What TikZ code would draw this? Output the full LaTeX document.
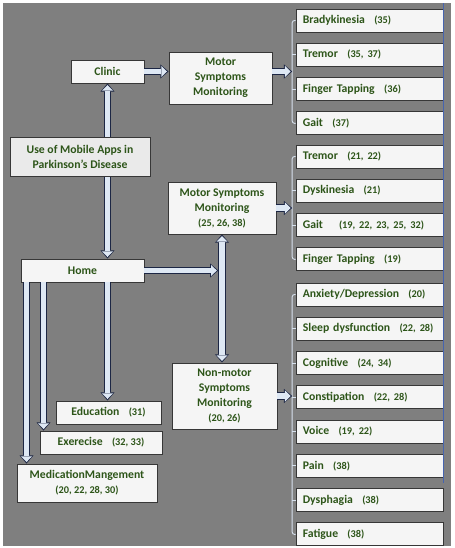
\documentclass[tikz,border=0pt]{standalone}
\usepackage{fontspec}
\setmainfont{Carlito}
\usepackage{xcolor}
\usetikzlibrary{arrows.meta, positioning}

\definecolor{bggray}{RGB}{127,127,127}
\definecolor{boxfill}{RGB}{245,245,245}
\definecolor{usefill}{RGB}{234,234,234}
\definecolor{boxedge}{RGB}{55,55,55}
\definecolor{txtgreen}{RGB}{45,85,25}
\definecolor{arrowedge}{RGB}{28,38,68}
\definecolor{arrowfill}{RGB}{222,232,244}
\definecolor{bracecol}{RGB}{215,225,238}
\definecolor{edgeblue}{RGB}{70,100,175}

\newcommand{\refsize}{\fontsize{8.8}{11}\selectfont}
\newcommand{\refs}[1]{\hspace{0.28cm}{\refsize(#1)}}

\begin{document}
\begin{tikzpicture}[font=\fontsize{10}{12.8}\selectfont\bfseries,
    box/.style={draw=boxedge, fill=boxfill, line width=0.8pt, text=txtgreen, align=center, inner sep=0pt},
    item/.style={box, minimum height=0.69cm, text width=4.0cm, align=left, inner xsep=0.205cm},
    fat/.style={line width=6pt, draw=arrowedge, -{Triangle[length=7pt, width=12pt, line width=0pt]},
        postaction={draw=arrowfill, line width=4.3pt, shorten >=1.3pt, -{Triangle[length=4.85pt, width=9.4pt, line width=0pt]}}},
    fatboth/.style={line width=6pt, draw=arrowedge, {Triangle[length=7pt, width=12pt, line width=0pt]}-{Triangle[length=7pt, width=12pt, line width=0pt]},
        postaction={draw=arrowfill, line width=4.3pt, shorten >=1.3pt, shorten <=1.3pt, {Triangle[length=4.85pt, width=9.4pt, line width=0pt]}-{Triangle[length=4.85pt, width=9.4pt, line width=0pt]}}},
    brace/.style={draw=bracecol, line width=0.8pt, rounded corners=2pt}]

    % Frame
    \useasboundingbox (0,0) rectangle (13.65,-16.44);
    \fill[white] (0,0) rectangle (13.65,-16.44);
    \fill[bggray] (0.09,-0.09) rectangle (13.53,-16.38);

    % Settings and monitoring
    \node[box, minimum width=2.19cm, minimum height=0.69cm] (clinic) at (3.225,-2.145) {Clinic};
    \node[box, minimum width=3.69cm, minimum height=0.69cm] (home) at (2.475,-8.115) {Home};
    \node[box, minimum width=3.09cm, minimum height=1.56cm] (motorc) at (6.615,-2.34) {Motor\\ Symptoms\\ Monitoring};
    \node[box, minimum width=3.24cm, minimum height=1.56cm] (motorh) at (6.66,-6.24) {Motor Symptoms\\ Monitoring\\ {\refsize(25, 26, 38)}};
    \node[box, minimum width=3.15cm, minimum height=1.98cm] (nonmotor) at (6.735,-11.88) {Non-motor\\ Symptoms\\ Monitoring\\ {\refsize(20, 26)}};

    % Home apps
    \node[box, minimum width=3.15cm, minimum height=0.69cm] (edu) at (3.255,-12.375) {Education\refs{31}};
    \node[box, minimum width=3.66cm, minimum height=0.69cm] (exer) at (3.03,-13.275) {Exerecise\refs{32, 33}};
    \node[box, minimum width=4.2cm, minimum height=1.14cm] (med) at (2.61,-14.49) {MedicationMangement\\ {\refsize(20, 22, 28, 30)}};

    % Clinic motor list
    \node[item] (brady) at (11.085,-0.615) {Bradykinesia\refs{35}};
    \node[item, below=0.31cm of brady] (tremorc) {Tremor\refs{35, 37}};
    \node[item, below=0.31cm of tremorc] (fingerc) {Finger Tapping\refs{36}};
    \node[item, below=0.31cm of fingerc] (gaitc) {Gait\refs{37}};

    % Home motor list
    \node[item] (tremorh) at (11.085,-4.695) {Tremor\refs{21, 22}};
    \node[item, below=0.31cm of tremorh] (dysk) {Dyskinesia\refs{21}};
    \node[item, below=0.31cm of dysk] (gaith) {Gait\hspace{0.2cm}\refs{19, 22, 23, 25, 32}};
    \node[item, below=0.31cm of gaith] (fingerh) {Finger Tapping\refs{19}};

    % Non-motor list
    \node[item] (anx) at (11.085,-8.835) {Anxiety/Depression\refs{20}};
    \node[item, below=0.31cm of anx] (sleep) {Sleep dysfunction\refs{22, 28}};
    \node[item, below=0.31cm of sleep] (cogn) {Cognitive\refs{24, 34}};
    \node[item, below=0.31cm of cogn] (const) {Constipation\refs{22, 28}};
    \node[item, below=0.31cm of const] (voice) {Voice\refs{19, 22}};
    \node[item, below=0.31cm of voice] (pain) {Pain\refs{38}};
    \node[item, below=0.31cm of pain] (dysph) {Dysphagia\refs{38}};
    \node[item, below=0.31cm of dysph] (fatigue) {Fatigue\refs{38}};

    \draw[edgeblue, line width=0.6pt] (13.29,-0.09) -- (13.29,-14.49);

    % Braces
    \draw[brace] (brady.west) -| ([xshift=-0.1cm]gaitc.west) -- (gaitc.west);
    \draw[brace] (tremorc.west) -- ++(-0.1,0) (fingerc.west) -- ++(-0.1,0);
    \draw[brace] (tremorh.west) -| ([xshift=-0.1cm]fingerh.west) -- (fingerh.west);
    \draw[brace] (dysk.west) -- ++(-0.1,0) (gaith.west) -- ++(-0.1,0);
    \draw[brace] (anx.west) -| ([xshift=-0.1cm]fatigue.west) -- (fatigue.west);
    \foreach \n in {sleep, cogn, const, voice, pain, dysph}
        \draw[brace] (\n.west) -- ++(-0.1,0);

    % Arrows
    \coordinate (exdrop) at ([xshift=0.12cm]exer.north west);
    \coordinate (meddrop) at ([xshift=0.3cm]med.north west);
    \coordinate (homeend) at ([xshift=-0.11cm]motorh.south |- home.east);
    \draw[fatboth] (clinic.south) -- (clinic.south |- home.north);
    \draw[fatboth] (motorh.south) -- (motorh.south |- nonmotor.north);
    \draw[fat] (clinic.east) -- (clinic.east -| motorc.west);
    \draw[fat] (motorc.east |- clinic.east) -- ([xshift=-0.1cm]brady.west |- clinic.east);
    \draw[fat] (motorh.east) -- ([xshift=-0.1cm]tremorh.west |- motorh.east);
    \draw[fat] (nonmotor.east) -- ([xshift=-0.1cm]anx.west |- nonmotor.east);
    \draw[fat] (home.east) -- (homeend);
    \draw[fat] (home.south -| clinic.south) -- (edu.north -| clinic.south);
    \draw[fat] (exdrop |- home.south) -- (exdrop);
    \draw[fat] (meddrop |- home.south) -- (meddrop);

    % Title box on top of the clinic-home arrow
    \node[box, fill=usefill, minimum width=4.2cm, minimum height=1.17cm] (use) at (2.4,-4.695) {Use of Mobile Apps in\\ Parkinson’s Disease};

\end{tikzpicture}
\end{document}
